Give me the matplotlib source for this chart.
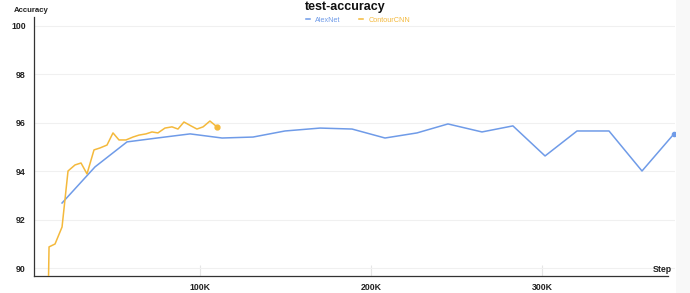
import matplotlib
matplotlib.use('Agg')
import matplotlib.pyplot as plt
from matplotlib.ticker import FuncFormatter

plt.rcParams['font.family'] = ['Liberation Sans', 'DejaVu Sans']

# AlexNet test accuracy (step in thousands)
alexnet_steps = [19.3, 38.6, 57.3, 74.9, 94.2, 112.9, 131.0, 149.7, 170.2, 188.9,
                 208.2, 226.9, 245.0, 264.9, 283.0, 301.8, 320.5, 339.2, 358.5, 377.2]
alexnet_acc = [92.70, 94.19, 95.22, 95.38, 95.55, 95.38, 95.42, 95.67, 95.79, 95.75,
               95.38, 95.59, 95.96, 95.63, 95.88, 94.64, 95.67, 95.67, 94.02, 95.55]

# ContourCNN test accuracy
contour_steps = [11.0, 11.7, 15.2, 19.3, 22.8, 26.9, 30.4, 33.9, 38.0, 41.5,
                 45.6, 49.1, 52.6, 56.7, 60.8, 64.3, 68.4, 71.9, 75.4, 79.5,
                 83.6, 87.1, 90.6, 94.7, 98.2, 101.8, 105.8, 109.9]
contour_acc = [88.0, 90.89, 91.01, 91.71, 94.02, 94.27, 94.35, 93.90, 94.89, 94.97,
               95.09, 95.59, 95.30, 95.30, 95.42, 95.50, 95.55, 95.63, 95.59, 95.79,
               95.84, 95.75, 96.04, 95.88, 95.75, 95.84, 96.08, 95.84]

x_ticks = [100, 200, 300]
y_ticks = [90, 92, 94, 96, 98, 100]

BLUE = '#6f9be8'
ORANGE = '#f4b93c'

fig = plt.figure(figsize=(6.9, 2.93), dpi=100)
# faint strip on the right edge
fig.patches.append(plt.Rectangle((676 / 690, 0), 14 / 690, 1, transform=fig.transFigure,
                                 facecolor='#f8f8f8', edgecolor='none', zorder=0))
ax = fig.add_axes([34 / 690, 1 - 276 / 293, (675 - 34) / 690, (276 - 17) / 293])

ax.plot(alexnet_steps, alexnet_acc, color=BLUE, lw=1.1, label='AlexNet', zorder=3)
ax.plot(alexnet_steps[-1:], alexnet_acc[-1:], 'o', color=BLUE, ms=3, zorder=4, clip_on=False)
ax.plot(contour_steps, contour_acc, color=ORANGE, lw=1.1, label='ContourCNN', zorder=3)
ax.plot(contour_steps[-1:], contour_acc[-1:], 'o', color=ORANGE, ms=3.5, zorder=4)

ax.set_xlim(2.9, 377.8)
ax.set_ylim(89.69, 100.37)
ax.set_yticks(y_ticks)
ax.set_xticks(x_ticks)
ax.xaxis.set_major_formatter(FuncFormatter(lambda v, p: f"{int(v)}K"))
ax.grid(axis='y', color='#f0f0f0', lw=0.8)
ax.set_axisbelow(True)

for s in ['top', 'right']:
    ax.spines[s].set_visible(False)
ax.spines['left'].set_color('#333333')
ax.spines['bottom'].set_color('#333333')
ax.spines['left'].set_linewidth(0.9)
ax.spines['bottom'].set_linewidth(0.9)
ax.spines['bottom'].set_bounds(2.9, 373.7)

ax.tick_params(axis='y', length=0, labelsize=6.3, pad=6, labelcolor='#222222')
ax.tick_params(axis='x', direction='in', length=8, color='#e6e6e6', labelsize=6.3,
               pad=5, labelcolor='#222222')
for lbl in ax.get_xticklabels() + ax.get_yticklabels():
    lbl.set_fontweight('bold')

fig.text(14 / 690, 1 - 10 / 293, 'Accuracy', fontsize=5.6, fontweight='bold',
         color='#222222', ha='left', va='center')
fig.text(672 / 690, 1 - 270 / 293, 'Step', fontsize=6.3, fontweight='bold',
         color='#222222', ha='right', va='center')
fig.text(345 / 690, 1 - 7 / 293, 'test-accuracy', fontsize=9, fontweight='bold',
         color='#111111', ha='center', va='center')

ax.legend(loc='center', bbox_to_anchor=(358 / 690, 1 - 20 / 293), bbox_transform=fig.transFigure,
          ncol=2, frameon=False, fontsize=5.2, handlelength=0.5, handletextpad=0.8,
          columnspacing=2.5, labelcolor='linecolor')

fig.savefig('out.png', dpi=100)
